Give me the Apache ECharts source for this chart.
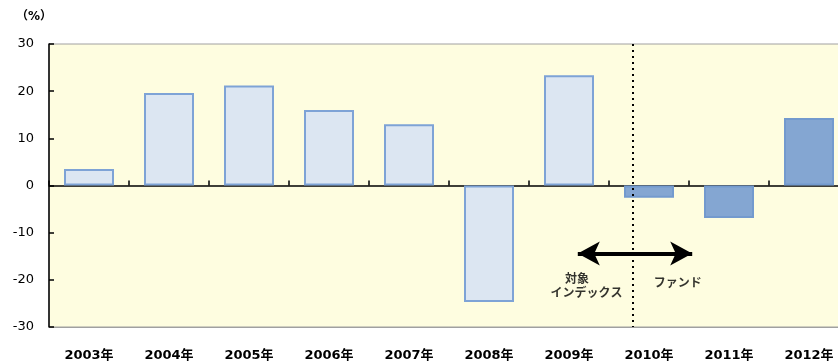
<!DOCTYPE html>
<html><head><meta charset="utf-8">
<script src="https://cdn.jsdelivr.net/npm/echarts@6/dist/echarts.min.js"></script>
<style>html,body{margin:0;padding:0;background:#fff;overflow:hidden;width:838px;height:362px}#c{width:849px;height:362px}</style>
</head><body><div id="c"></div>
<script>
const categories = ['2003年','2004年','2005年','2006年','2007年','2008年','2009年','2010年','2011年','2012年'];
const indexValues = [3.5, 19.6, 21.2, 16.0, 13.0, -24.7, 23.4, null, null, null];
const fundValues = [null, null, null, null, null, null, null, -2.6, -6.9, 14.3];
const yMin = -30, yMax = 30, yStep = 10;
const leftLabel = ['対象', 'インデックス'];
const rightLabel = 'ファンド';
const unitLabel = '（%）';

const font = 'DejaVu Sans, Noto Sans CJK JP, sans-serif';
const chart = echarts.init(document.getElementById('c'), null, {renderer:'canvas'});
chart.setOption({
  animation: false,
  backgroundColor: '#ffffff',
  graphic: [{type:'text', left: 16, top: 11, style:{text: unitLabel, font: 'bold 12px ' + font, fill:'#000'}}],
  grid: {left: 49, top: 44, right: 0, bottom: 35, show: true, backgroundColor: '#fefde0', borderColor: '#a0a0a0', borderWidth: 1},
  xAxis: [
    {type:'category', data: categories, position:'bottom', axisLine:{onZero:false, lineStyle:{color:'#a0a0a0', width:1}},
     axisTick:{show:false}, axisLabel:{color:'#000', fontSize:13, fontFamily:font, fontWeight:'bold', margin:22}},
    {type:'category', data: categories, position:'bottom', axisLine:{onZero:true, lineStyle:{color:'#000', width:1.5}},
     axisTick:{show:true, inside:true, length:5, lineStyle:{color:'#000', width:1.5}}, axisLabel:{show:false}},
    {type:'value', min:0, max:10, show:false}
  ],
  yAxis: {type:'value', min:yMin, max:yMax, interval:yStep,
    axisLine:{show:true, onZero:false, lineStyle:{color:'#000', width:1.5}},
    axisTick:{show:true, inside:true, length:5, lineStyle:{color:'#000', width:1.5}},
    splitLine:{show:false},
    axisLabel:{color:'#000', fontSize:13, fontFamily:font, margin:15}},
  series: [
    {type:'bar', xAxisIndex:0, data: indexValues, barCategoryGap:'37.5%', barGap:'-100%',
     itemStyle:{color:'#dce6f2', borderColor:'#7ea3d6', borderWidth:2}},
    {type:'bar', xAxisIndex:0, data: fundValues, barCategoryGap:'37.5%', barGap:'-100%',
     itemStyle:{color:'#84a6d2', borderColor:'#739ace', borderWidth:2}},
    {type:'scatter', xAxisIndex:2, symbolSize:0, silent:true,
     data:[
       {value:[6.6,-19.7], label:{formatter: leftLabel[0]}},
       {value:[6.72,-22.6], label:{formatter: leftLabel[1]}},
       {value:[7.86,-20.5], label:{formatter: rightLabel}}
     ],
     label:{show:true, position:'inside', color:'#000', fontSize:12, fontWeight:'bold', fontFamily:'Noto Sans CJK JP'},
     markLine:{silent:true, symbol:['none','none'], label:{show:false},
       data:[
         [{coord:[7.3,30], lineStyle:{color:'#000', width:2, type:[2,4]}}, {coord:[7.3,-30]}],
         [{coord:[6.61,-14.4], symbol:'arrow', symbolSize:[18,22], lineStyle:{color:'#000', width:4, type:'solid'}},
          {coord:[8.04,-14.4], symbol:'arrow', symbolSize:[18,22]}]
       ]}}
  ]
});
</script></body></html>
